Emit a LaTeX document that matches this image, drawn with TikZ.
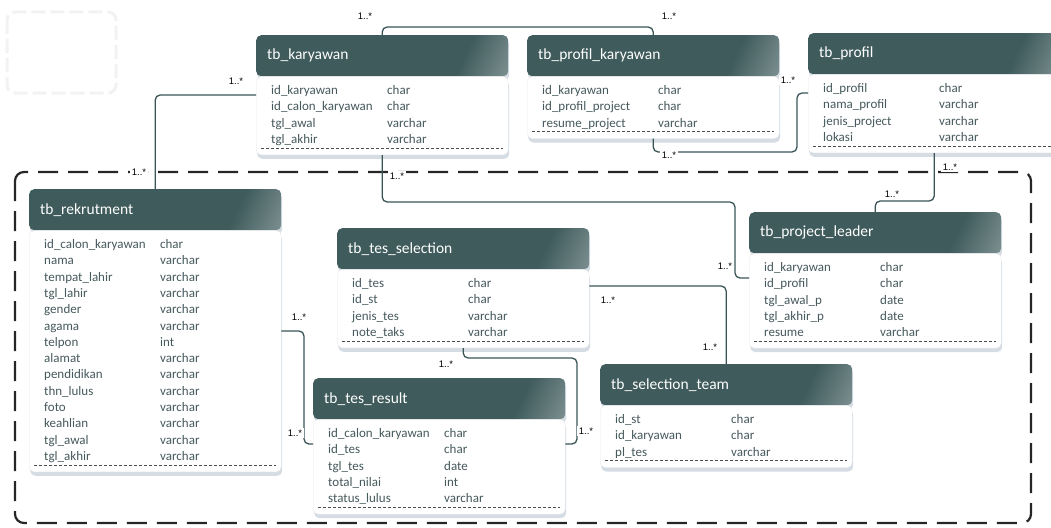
\documentclass[tikz,border=0pt]{standalone}
\usepackage{fontspec}
\setmainfont{Carlito}
\newfontfamily\multfont{Liberation Sans}
\usepackage{tikz}
\usetikzlibrary{positioning,shadows}
\usepackage{xcolor}
\definecolor{hdrc}{HTML}{3F5B5C}
\definecolor{hdrlight}{HTML}{CBD3D3}
\definecolor{bodytext}{HTML}{46595C}
\definecolor{relc}{HTML}{3A5558}
\definecolor{shadowc}{HTML}{B9C5D1}
\pgfdeclarehorizontalshading{hdrshade}{100bp}{color(0bp)=(hdrc); color(70bp)=(hdrc); color(100bp)=(hdrlight)}

\begin{document}
\begin{tikzpicture}[x=1pt, y=-1pt,
    header/.style={anchor=north west, shading=hdrshade, shading angle=-25,
        rounded corners=5pt, minimum height=41pt, text width=230pt, inner xsep=11pt,
        align=left, text=white, font=\fontsize{15.5}{18}\selectfont,
        drop shadow={shadow xshift=1pt, shadow yshift=-4pt, fill=shadowc, opacity=0.6}},
    body/.style={fill=white, draw=black!8, rounded corners=5pt, text width=222pt,
        inner xsep=15pt, inner ysep=6.5pt, align=left, text=bodytext,
        font=\fontsize{13}{16.3}\selectfont,
        drop shadow={shadow xshift=1pt, shadow yshift=-4pt, fill=shadowc, opacity=0.6}},
    sepline/.style={draw=black!70, densely dashed, line width=0.8pt},
    rel/.style={draw=relc, line width=1.3pt, rounded corners=5pt},
    mult/.style={fill=white, inner sep=1.5pt, font=\multfont\fontsize{9.5}{10}\selectfont},
    frame/.style={draw=black!85, line width=2.2pt, dash pattern=on 20pt off 10pt,
        rounded corners=9pt},
    ghost/.style={draw=black!5, line width=3pt, dash pattern=on 14pt off 5pt, rounded corners=8pt}]

\useasboundingbox (0,0) rectangle (1051,527);

\draw[ghost] (7,12) rectangle (116,93);
\draw[frame] (15,172) rectangle (1031,523);

% tables
\node[header] (karyawan) at (256,35) {tb\_karyawan};
\node[body, below=0pt of karyawan] (kbody) {\begin{tabular}{@{}p{116pt}@{}l@{}}
id\_karyawan & char\\
id\_calon\_karyawan & char\\
tgl\_awal & varchar\\
tgl\_akhir & varchar
\end{tabular}};

\node[header] (profilk) at (527,35) {tb\_profil\_karyawan};
\node[body, below=0pt of profilk] (pkbody) {\begin{tabular}{@{}p{116pt}@{}l@{}}
id\_karyawan & char\\
id\_profil\_project & char\\
resume\_project & varchar
\end{tabular}};

\node[header] (profil) at (808,33) {tb\_profil};
\node[body, below=0pt of profil] (pbody) {\begin{tabular}{@{}p{116pt}@{}l@{}}
id\_profil & char\\
nama\_profil & varchar\\
jenis\_project & varchar\\
lokasi & varchar
\end{tabular}};

\node[header] (rekrutment) at (29,189) {tb\_rekrutment};
\node[body, below=0pt of rekrutment] (rbody) {\begin{tabular}{@{}p{116pt}@{}l@{}}
id\_calon\_karyawan & char\\
nama & varchar\\
tempat\_lahir & varchar\\
tgl\_lahir & varchar\\
gender & varchar\\
agama & varchar\\
telpon & int\\
alamat & varchar\\
pendidikan & varchar\\
thn\_lulus & varchar\\
foto & varchar\\
keahlian & varchar\\
tgl\_awal & varchar\\
tgl\_akhir & varchar
\end{tabular}};

\node[header] (tesselection) at (337,228) {tb\_tes\_selection};
\node[body, below=0pt of tesselection] (tsbody) {\begin{tabular}{@{}p{116pt}@{}l@{}}
id\_tes & char\\
id\_st & char\\
jenis\_tes & varchar\\
note\_taks & varchar
\end{tabular}};

\node[header] (tesresult) at (313,378) {tb\_tes\_result};
\node[body, below=0pt of tesresult] (trbody) {\begin{tabular}{@{}p{116pt}@{}l@{}}
id\_calon\_karyawan & char\\
id\_tes & char\\
tgl\_tes & date\\
total\_nilai & int\\
status\_lulus & varchar
\end{tabular}};

\node[header] (team) at (600,364) {tb\_selection\_team};
\node[body, below=0pt of team] (stbody) {\begin{tabular}{@{}p{116pt}@{}l@{}}
id\_st & char\\
id\_karyawan & char\\
pl\_tes & varchar
\end{tabular}};

\node[header] (leader) at (749,212) {tb\_project\_leader};
\node[body, below=0pt of leader] (lbody) {\begin{tabular}{@{}p{116pt}@{}l@{}}
id\_karyawan & char\\
id\_profil & char\\
tgl\_awal\_p & date\\
tgl\_akhir\_p & date\\
resume & varchar
\end{tabular}};

\foreach \t in {kbody,pkbody,pbody,rbody,tsbody,trbody,stbody,lbody}
    \draw[sepline] ([shift={(5,-7)}]\t.south west) -- ([shift={(-5,-7)}]\t.south east);

% relations
\draw[rel] (karyawan.north) -- ++(0,-8) -| (profilk.north);
\draw[rel] (kbody.west |- 0,95) -| (rekrutment.north);
\draw[rel] (kbody.south) |- (735,202) |- (lbody.west |- 0,278);
\draw[rel] (pkbody.south) |- (797,152) |- (pbody.west |- 0,93);
\draw[rel] (pbody.south) |- (leader.north |- 0,201) -- (leader.north);
\draw[rel] (tsbody.east |- 0,286) -| (team.north);
\draw[rel] (rbody.east |- 0,331) -- (304,331) |- (trbody.west |- 0,444);
\draw[rel] (tsbody.south) |- (577,358) |- (trbody.east |- 0,444);

\node[mult] (m1a) at (365,16) {1..*};
\node[mult] (m1b) at (669,16) {1..*};
\node[mult] (m2a) at (236,81) {1..*};
\node[mult] (m2b) at (139,172) {1..*};
\node[mult] (m3a) at (397,176) {1..*};
\node[mult] (m3b) at (725,266) {1..*};
\node[mult] (m4a) at (669,155) {1..*};
\node[mult] (m4b) at (788,80) {1..*};
\node[mult] (m5a) at (950,167) {1..*};
\node[mult] (m5b) at (892,194) {1..*};
\node[mult] (m6a) at (608,300) {1..*};
\node[mult] (m6b) at (710,347) {1..*};
\node[mult] (m7a) at (299,317) {1..*};
\node[mult] (m7b) at (295,433) {1..*};
\node[mult] (m8a) at (446,364) {1..*};
\node[mult] (m8b) at (586,431) {1..*};

\end{tikzpicture}
\end{document}
